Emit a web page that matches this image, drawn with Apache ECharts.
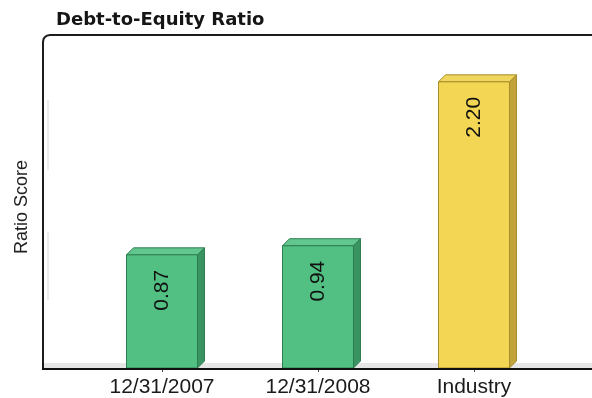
<!DOCTYPE html>
<html>
<head>
<meta charset="utf-8">
<script src="https://cdn.jsdelivr.net/npm/echarts@6/dist/echarts.min.js"></script>
<style>
  html, body { margin: 0; padding: 0; background: #fff; }
  #chart { width: 592px; height: 398px; }
</style>
</head>
<body>
<div id="chart"></div>
<script>
// Debt-to-equity figures by period, plus the industry benchmark
const categories = ['12/31/2007', '12/31/2008', 'Industry'];
const ratios = [0.87, 0.94, 2.20];
const chartTitle = 'Debt-to-Equity Ratio';
const axisTitle = 'Ratio Score';

// Face colours for each bar: company periods in green, benchmark in yellow
const green = { front: '#52c082', side: '#3a9461', top: '#62c78f', edge: '#2e7d50' };
const yellow = { front: '#f3d653', side: '#c2a33a', top: '#f0d65c', edge: '#a88d2c' };
const barColors = [green, green, yellow];

const chart = echarts.init(document.getElementById('chart'), null, { renderer: 'canvas' });

const DEPTH = 7;

function renderBar(params, api) {
  const idx = api.value(0);
  const v = api.value(1);
  const topPt = api.coord([idx, v]);
  const basePt = api.coord([idx, 0]);
  const band = api.size([1, 0])[0];
  const w = band * 0.455;
  const x0 = topPt[0] - w / 2;
  const x1 = topPt[0] + w / 2;
  const yT = topPt[1];
  const yB = basePt[1];
  const c = barColors[idx];
  return {
    type: 'group',
    children: [
      {
        type: 'polygon',
        shape: { points: [[x1, yT], [x1 + DEPTH, yT - DEPTH], [x1 + DEPTH, yB - DEPTH], [x1, yB]] },
        style: { fill: c.side, stroke: c.edge, lineWidth: 1 }
      },
      {
        type: 'polygon',
        shape: { points: [[x0, yT], [x0 + DEPTH, yT - DEPTH], [x1 + DEPTH, yT - DEPTH], [x1, yT]] },
        style: { fill: c.top, stroke: c.edge, lineWidth: 1 }
      },
      {
        type: 'rect',
        shape: { x: x0, y: yT, width: w, height: yB - yT },
        style: { fill: c.front, stroke: c.edge, lineWidth: 1 }
      },
      {
        type: 'text',
        x: topPt[0],
        y: yT + 15,
        rotation: Math.PI / 2,
        style: {
          text: v.toFixed(2),
          textAlign: 'right',
          textVerticalAlign: 'middle',
          fontFamily: 'Liberation Sans, Arial, sans-serif',
          fontSize: 21,
          fill: '#111'
        }
      }
    ]
  };
}

chart.setOption({
  animation: false,
  backgroundColor: '#ffffff',
  title: {
    text: chartTitle,
    left: 51,
    top: 6,
    textStyle: { fontFamily: 'DejaVu Sans', fontSize: 18, fontWeight: 'bold', color: '#151515' }
  },
  grid: { left: 84, right: 40, top: 35, bottom: 30 },
  xAxis: {
    type: 'category',
    data: categories,
    axisLine: { show: false },
    axisTick: { show: true, alignWithLabel: true, length: 4, lineStyle: { color: '#444', width: 1 } },
    axisLabel: {
      margin: 9,
      fontFamily: 'Liberation Sans, Arial, sans-serif',
      fontSize: 21,
      color: '#1a1a1a'
    }
  },
  yAxis: {
    type: 'value',
    min: 0,
    max: 2.56,
    axisLine: { show: false },
    axisTick: { show: false },
    axisLabel: { show: false },
    splitLine: { show: false }
  },
  graphic: [
    // floor strip under the bars
    { type: 'rect', z: 0, shape: { x: 44, y: 363, width: 560, height: 5 }, style: { fill: '#e6e6e6' } },
    // faint back wall marks
    { type: 'line', z: 0, shape: { x1: 48, y1: 100, x2: 48, y2: 170 }, style: { stroke: '#ececec', lineWidth: 2 } },
    { type: 'line', z: 0, shape: { x1: 48, y1: 232, x2: 48, y2: 300 }, style: { stroke: '#ececec', lineWidth: 2 } },
    // plot frame: left side and top with a rounded corner
    {
      type: 'polyline', z: 10,
      shape: { points: [[43, 370], [43, 42], [43.6, 39], [45, 37], [47, 35.6], [50, 35], [600, 35]] },
      style: { stroke: '#1c1c1c', lineWidth: 2, fill: null }
    },
    // category axis baseline
    { type: 'line', z: 10, shape: { x1: 42, y1: 369, x2: 600, y2: 369 }, style: { stroke: '#111', lineWidth: 2 } },
    // vertical axis title
    {
      type: 'text', z: 10,
      x: 22, y: 207,
      rotation: Math.PI / 2,
      style: {
        text: axisTitle,
        textAlign: 'center',
        textVerticalAlign: 'middle',
        fontFamily: 'Liberation Sans, Arial, sans-serif',
        fontSize: 18,
        fill: '#222'
      }
    }
  ],
  series: [{
    type: 'custom',
    renderItem: renderBar,
    encode: { x: 0, y: 1 },
    data: ratios.map((v, i) => [i, v]),
    z: 5
  }]
});
</script>
</body>
</html>
